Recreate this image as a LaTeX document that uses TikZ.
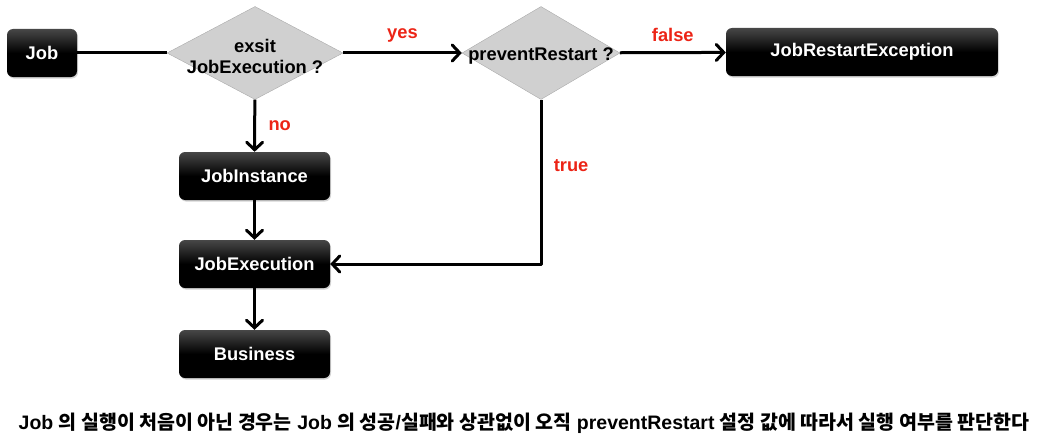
\documentclass[tikz,border=0pt]{standalone}
\usepackage{fontspec}
\setmainfont{Liberation Sans}
\newfontfamily\koreanFont{Noto Sans CJK KR}
\usetikzlibrary{positioning, shapes.geometric, shadows, arrows.meta}
\tikzstyle{flowchart} = [x = 1pt, y = -1pt, font=\bfseries\fontsize{18.3}{21}\selectfont]
\definecolor{labelRed}{RGB}{236,36,22}
\definecolor{diamondFill}{RGB}{208,208,208}
\definecolor{diamondLine}{RGB}{170,170,170}
\tikzstyle{boxStyle} = [rounded corners = 6pt, text=white, minimum height = 48pt, inner sep = 0pt,
  top color=black!72, bottom color=black, middle color=black,
  drop shadow={opacity=0.35, shadow xshift=1pt, shadow yshift=-1.5pt}]
\tikzstyle{decisionStyle} = [diamond, draw=diamondLine, fill=diamondFill, minimum height = 93pt, inner sep = 0pt]
\tikzstyle{flowLine} = [line width = 3pt, line join = round]
\tikzstyle{flowArrow} = [flowLine, -{Straight Barb[length = 7.5pt, width = 16pt, line cap = round]}]
\tikzstyle{branchText} = [text=labelRed]
\newcommand{\blackBox}[5]{\node [boxStyle, minimum width = #4] (#1) at (#2,#3) {#5};}
\newcommand{\decision}[5]{\node [decisionStyle, minimum width = #4,
  label = {[align=center, yshift=-3pt]center:#5}] (#1) at (#2,#3) {};}

\begin{document}
\begin{tikzpicture}[flowchart]
        \useasboundingbox (0,0) rectangle (1057,444);
        \blackBox{job}{42}{53}{70pt}{Job}
        \decision{exist}{255}{53}{176pt}{exsit\\JobExecution ?}
        \decision{restart}{541}{53}{158pt}{preventRestart ?}
        \blackBox{restartException}{862}{52}{272pt}{JobRestartException}
        \blackBox{instance}{254.5}{176}{151pt}{JobInstance}
        \blackBox{execution}{254.5}{264}{151pt}{JobExecution}
        \blackBox{business}{254.5}{354}{151pt}{Business}

        \draw[flowLine] (job) -- (exist);
        \draw[flowArrow] (exist) -- node [branchText, above = 6pt] {yes} (restart);
        \draw[flowArrow] (restart) -- node [branchText, above = 6pt] {false} (restartException);
        \draw[flowArrow] (exist) -- node [branchText, right = 9pt, pos = 0.5] {no} (instance);
        \draw[flowArrow] (restart.south) |- node [branchText, right = 8pt, pos = 0.2] {true} (execution.east);
        \draw[flowArrow] (instance) -- (execution);
        \draw[flowArrow] (execution) -- (business);

        \node [font=\bfseries\fontsize{19.5}{22}\selectfont] (note) at (524,423) {Job {\koreanFont 의 실행이 처음이 아닌 경우는} Job {\koreanFont 의 성공}/{\koreanFont 실패와 상관없이 오직} preventRestart {\koreanFont 설정 값에 따라서 실행 여부를 판단한다}};
      \end{tikzpicture}
\end{document}
